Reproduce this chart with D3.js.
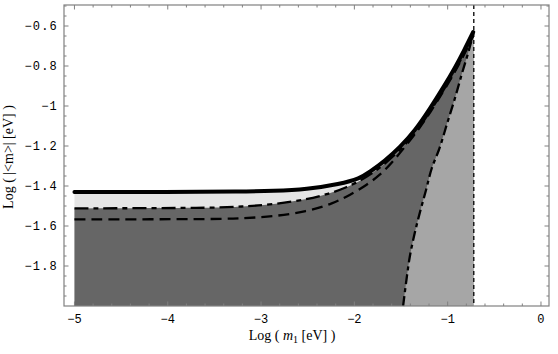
<!DOCTYPE html>
<html>
<head>
<meta charset="utf-8">
<script src="https://cdn.jsdelivr.net/npm/d3@7"></script>
<style>
  body { margin: 0; background: #fff; }
  svg { display: block; }
</style>
</head>
<body>
<div id="chart"></div>
<script>
// curves, [log m1, log |<m>|]
const solidCurve = [
  [-5, -1.43], [-4, -1.43], [-3.2, -1.428], [-2.87, -1.425], [-2.51, -1.417],
  [-2.154, -1.39], [-1.942, -1.3625], [-1.835, -1.33], [-1.674, -1.275],
  [-1.513, -1.2075], [-1.352, -1.125], [-1.191, -1.015], [-1.03, -0.895],
  [-0.9227, -0.81], [-0.8262, -0.725], [-0.7264, -0.63]
];
const dashDotCurve = [
  [-5, -1.512], [-3.5, -1.51], [-3.2, -1.503], [-2.87, -1.492], [-2.51, -1.468],
  [-2.26, -1.437], [-2.1, -1.41], [-1.94, -1.375], [-1.835, -1.345],
  [-1.674, -1.29], [-1.513, -1.222], [-1.352, -1.14], [-1.191, -1.03],
  [-1.03, -0.91], [-0.9227, -0.825], [-0.8262, -0.74], [-0.7264, -0.645]
];
const dashedCurve = [
  [-5, -1.567], [-3.5, -1.566], [-3.226, -1.562], [-2.869, -1.553], [-2.511, -1.528],
  [-2.225, -1.487], [-2.046, -1.445], [-1.867, -1.395], [-1.726, -1.345],
  [-1.6, -1.285], [-1.45, -1.2], [-1.3, -1.11], [-1.191, -1.035],
  [-1.03, -0.915], [-0.9227, -0.83], [-0.8262, -0.745], [-0.7264, -0.65]
];
const steepCurve = [
  [-1.4775, -2.0], [-1.442, -1.87], [-1.406, -1.7535], [-1.3536, -1.6365],
  [-1.2908, -1.52], [-1.2318, -1.42], [-1.1695, -1.31], [-1.0944, -1.22],
  [-1.0054, -1.0865], [-0.9174, -0.9535], [-0.8423, -0.83], [-0.7779, -0.73],
  [-0.7264, -0.64]
];
const boundX = -0.72;

const yTickValues = [-1.8, -1.6, -1.4, -1.2, -1, -0.8, -0.6];
const yTickLabels = ["−1.8", "−1.6", "−1.4", "−1.2", "−1", "−0.8", "−0.6"];
const xTickValues = [-5, -4, -3, -2, -1, 0];
const xTickLabels = ["−5", "−4", "−3", "−2", "−1", "0"];

const W = 558, H = 354;
const pLeft = 64, pRight = 549, pTop = 5, pBottom = 306;
const xMin = -5.112, xMax = 0.086, yMin = -2.0, yMax = -0.495;

const svg = d3.select("#chart").append("svg").attr("width", W).attr("height", H);
svg.append("rect").attr("width", W).attr("height", H).attr("fill", "#fff");

const x = d3.scaleLinear().domain([xMin, xMax]).range([pLeft, pRight]);
const y = d3.scaleLinear().domain([yMin, yMax]).range([pBottom, pTop]);

const plot = svg.append("g");
const smooth = d3.curveBasis;

// light region under the solid curve
plot.append("path").datum(solidCurve)
  .attr("d", d3.area().curve(smooth).x(d => x(d[0])).y0(y(yMin)).y1(d => y(d[1])))
  .attr("fill", "#e5e5e5");

// dark region under the dash-dot curve
plot.append("path").datum(dashDotCurve)
  .attr("d", d3.area().curve(smooth).x(d => x(d[0])).y0(y(yMin)).y1(d => y(d[1])))
  .attr("fill", "#666666");

// mid grey region right of the steep curve
plot.append("path").datum(steepCurve)
  .attr("d", d3.area().curve(d3.curveMonotoneY).y(d => y(d[1])).x0(d => x(d[0])).x1(x(boundX)))
  .attr("fill", "#a6a6a6");

const line = d3.line().curve(smooth).x(d => x(d[0])).y(d => y(d[1]));

plot.append("path").datum(dashedCurve).attr("d", line)
  .attr("fill", "none").attr("stroke", "#000").attr("stroke-width", 2.3)
  .attr("stroke-dasharray", "11,6");

plot.append("path").datum(dashDotCurve).attr("d", line)
  .attr("fill", "none").attr("stroke", "#000").attr("stroke-width", 2.3)
  .attr("stroke-dasharray", "14,5,5,5");

plot.append("path").datum(steepCurve)
  .attr("d", d3.line().curve(d3.curveMonotoneY).x(d => x(d[0])).y(d => y(d[1])))
  .attr("fill", "none").attr("stroke", "#000").attr("stroke-width", 2.3)
  .attr("stroke-dasharray", "10,4,4,4");

plot.append("path").datum(solidCurve).attr("d", line)
  .attr("fill", "none").attr("stroke", "#000").attr("stroke-width", 4)
  .attr("stroke-linecap", "round");

plot.append("line")
  .attr("x1", x(boundX)).attr("x2", x(boundX))
  .attr("y1", y(yMax)).attr("y2", y(yMin))
  .attr("stroke", "#000").attr("stroke-width", 1.3)
  .attr("stroke-dasharray", "4,3");

// frame and inward ticks
const frameColor = "#808080";
svg.append("rect")
  .attr("x", pLeft).attr("y", pTop).attr("width", pRight - pLeft).attr("height", pBottom - pTop)
  .attr("fill", "none").attr("stroke", frameColor).attr("stroke-width", 1.2);

const yMinor = d3.range(-40, -9).map(i => i * 0.05).filter(v => v > yMin + 1e-6 && v < yMax);
const xMinor = d3.range(-25, 1).map(i => i * 0.2).filter(v => v > xMin && v < xMax);

const ticks = svg.append("g").attr("stroke", frameColor).attr("stroke-width", 1);
yMinor.forEach(v => {
  const major = yTickValues.some(t => Math.abs(t - v) < 1e-6);
  const len = major ? 4.5 : 2.5;
  ticks.append("line").attr("x1", pLeft).attr("x2", pLeft + len).attr("y1", y(v)).attr("y2", y(v));
  ticks.append("line").attr("x1", pRight).attr("x2", pRight - len).attr("y1", y(v)).attr("y2", y(v));
});
xMinor.forEach(v => {
  const major = xTickValues.some(t => Math.abs(t - v) < 1e-6);
  const len = major ? 4.5 : 2.5;
  ticks.append("line").attr("y1", pBottom).attr("y2", pBottom - len).attr("x1", x(v)).attr("x2", x(v));
  ticks.append("line").attr("y1", pTop).attr("y2", pTop + len).attr("x1", x(v)).attr("x2", x(v));
});

const tickFont = "'Liberation Mono', 'DejaVu Sans Mono', monospace";
svg.append("g").selectAll("text").data(yTickValues).join("text")
  .attr("x", pLeft - 6).attr("y", d => y(d) + 4)
  .attr("text-anchor", "end")
  .attr("font-family", tickFont).attr("font-size", 12).attr("letter-spacing", 1.2)
  .attr("fill", "#000")
  .text((d, i) => yTickLabels[i]);

svg.append("g").selectAll("text").data(xTickValues).join("text")
  .attr("x", d => x(d)).attr("y", pBottom + 17)
  .attr("text-anchor", "middle")
  .attr("font-family", tickFont).attr("font-size", 12)
  .attr("fill", "#000")
  .text((d, i) => xTickLabels[i]);

// axis titles
const xl = svg.append("text")
  .attr("x", 292).attr("y", 340)
  .attr("text-anchor", "middle")
  .attr("font-family", "'Liberation Serif', 'DejaVu Serif', serif").attr("font-size", 14)
  .attr("fill", "#000");
xl.append("tspan").text("Log ( ");
xl.append("tspan").attr("font-style", "italic").text("m");
xl.append("tspan").attr("font-size", 10).attr("dy", 3).text("1");
xl.append("tspan").attr("dy", -3).text(" [eV] )");

svg.append("text")
  .attr("transform", "translate(13,157) rotate(-90)")
  .attr("text-anchor", "middle")
  .attr("font-family", "'Liberation Serif', 'DejaVu Serif', serif").attr("font-size", 14)
  .attr("fill", "#000")
  .text("Log ( |<m>| [eV] )");
</script>
</body>
</html>
